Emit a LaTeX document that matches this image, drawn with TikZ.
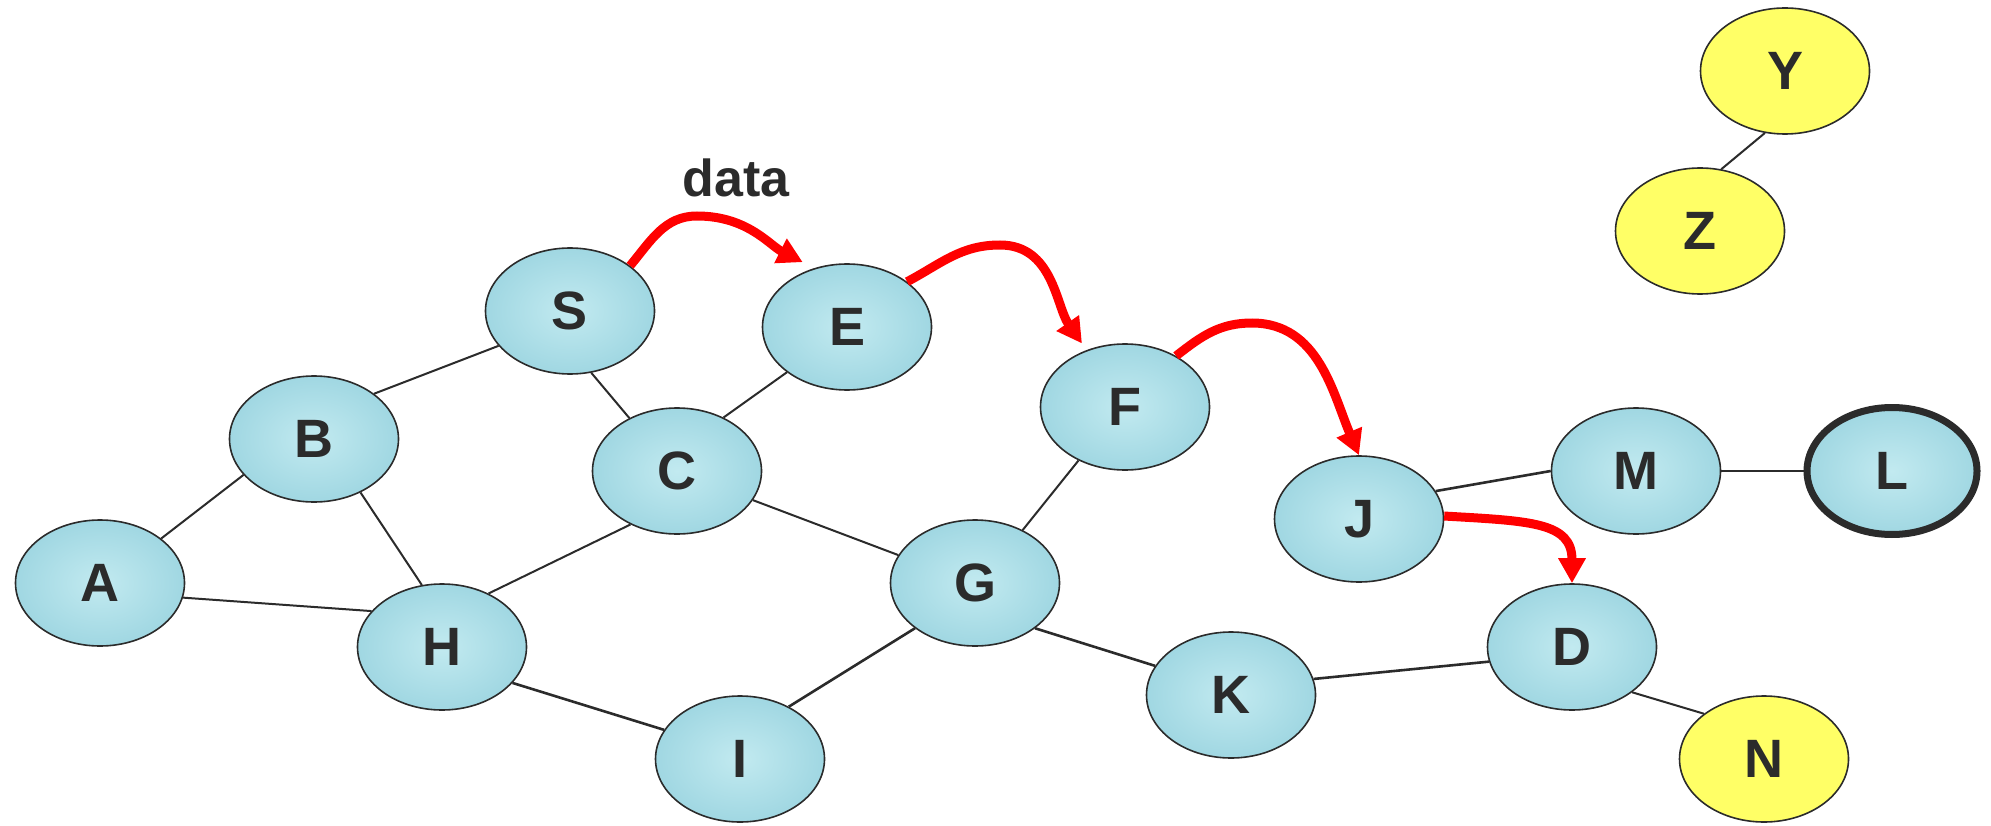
\documentclass[tikz,border=0pt]{standalone}
\usepackage{fontspec}
\setmainfont{Liberation Sans}
\usetikzlibrary{arrows.meta,shapes.geometric}
\definecolor{ink}{HTML}{2B2B2B}
\definecolor{waterin}{HTML}{C2EAF0}
\definecolor{waterout}{HTML}{A0D7E2}
\definecolor{sun}{HTML}{FFFF66}
\begin{document}
\begin{tikzpicture}[x=1pt,y=-1pt,
  nd/.style={ellipse, draw=ink, line width=1.6pt, minimum width=169pt, minimum height=126pt,
    inner sep=0pt, text=ink, font=\fontsize{54pt}{60pt}\selectfont\bfseries},
  bub/.style={nd, inner color=waterin, outer color=waterout},
  yel/.style={nd, fill=sun},
  ln/.style={draw=ink, line width=2pt},
  lnb/.style={draw=ink, line width=2.6pt},
  arr/.style={draw=red, line width=9pt, -{Triangle[length=25pt,width=26pt]}}
]
\useasboundingbox (0,0) rectangle (1991,826);

% nodes
\node[bub] (S) at (570,311) {S};
\node[bub] (E) at (847,327) {E};
\node[bub] (B) at (314,439) {B};
\node[bub] (C) at (677,471) {C};
\node[bub] (F) at (1125,407) {F};
\node[bub] (J) at (1359,519) {J};
\node[bub] (M) at (1636,471) {M};
\node[bub, line width=7pt, minimum width=170pt, minimum height=127pt] (L) at (1892,471) {L};
\node[bub] (A) at (100,583) {A};
\node[bub] (H) at (442,647) {H};
\node[bub] (G) at (975,583) {G};
\node[bub] (K) at (1231,695) {K};
\node[bub] (D) at (1572,647) {D};
\node[bub] (I) at (740,759) {I};
\node[yel] (N) at (1764,759) {N};
\node[yel] (Y) at (1785,71) {Y};
\node[yel] (Z) at (1700,231) {Z};

\node[anchor=base, text=ink, font=\fontsize{52pt}{60pt}\selectfont\bfseries] (lbl) at (736,197) {data};

% links
\draw[ln]  (A.36)  -- (B.207);
\draw[ln]  (A.-10) -- (H.153);
\draw[ln]  (B.37)  -- (S.206);
\draw[ln]  (B.-49) -- (H.108);
\draw[ln]  (S.-71) -- (C.132);
\draw[ln]  (E.217) -- (C.49);
\draw[ln]  (H.49)  -- (C.229);
\draw[ln]  (C.-21) -- (G.160);
\draw[ln]  (F.229) -- (G.48);
\draw[lnb] (G.217) -- (I.47);
\draw[lnb] (H.-27) -- (I.159);
\draw[lnb] (G.-37) -- (K.159);
\draw[lnb] (K.11)  -- (D.190);
\draw[ln]  (D.-37) -- (N.143);
\draw[lnb] (J.20)  -- (M.180);
\draw[lnb] (M.east) -- (L.west);
\draw[ln]  (Y.252) -- (Z.71);

% data path
\coordinate (pSE) at (697,216);
\coordinate (pEF) at (1000,245);
\coordinate (pFJ) at (1252,323);
\draw[arr, shorten >=13pt] (S.37) to[out=50,in=180] (pSE) to[out=0,in=153] (E.119);
\draw[arr, shorten >=8pt]  (E.37) to[out=28,in=180] (pEF) to[out=0,in=125] (F.124);
\draw[arr] (F.45) to[out=38,in=180] (pFJ) to[out=0,in=113] (J.90);
\draw[arr] (J.2) .. controls (1530,521) and (1572,522) .. (D.90);
\end{tikzpicture}
\end{document}
